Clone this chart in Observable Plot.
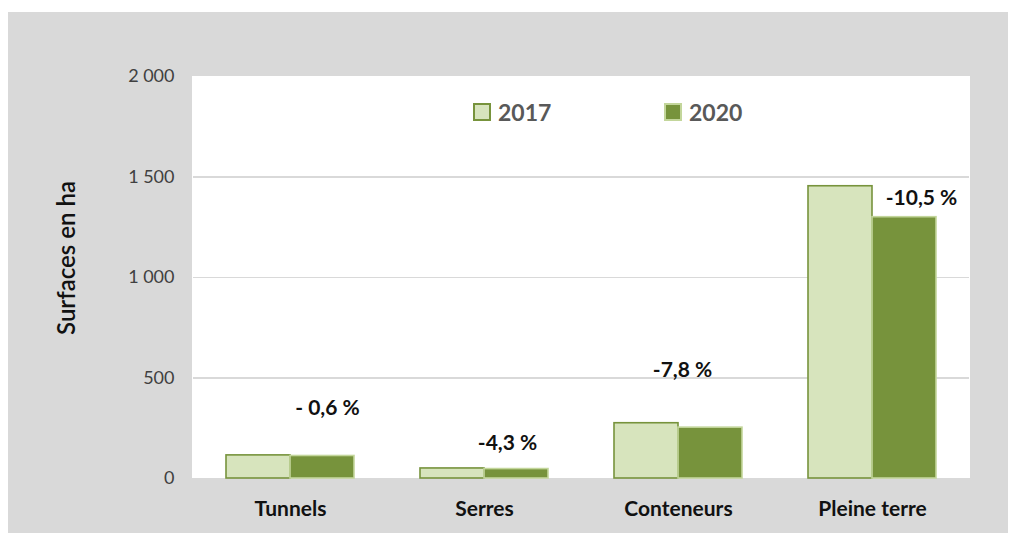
<!DOCTYPE html>
<html>
<head>
<meta charset="utf-8">
<script src="https://cdn.jsdelivr.net/npm/d3@7"></script>
<script src="https://cdn.jsdelivr.net/npm/@observablehq/plot@0.6"></script>
<style>
  html, body { margin: 0; padding: 0; background: #ffffff; }
  #wrap { position: relative; width: 1009px; height: 533px; overflow: hidden; font-family: Lato, "Open Sans", sans-serif; }
  #bg { position: absolute; left: 8px; top: 12px; width: 1000px; height: 521px; background: #d9d9d9; }
  #plotbg { position: absolute; left: 192px; top: 76px; width: 778px; height: 402px; background: #ffffff; }
  #chart { position: absolute; left: 0; top: 0; }
  #ylabel { position: absolute; left: 65px; top: 258px; transform: translate(-50%, -50%) rotate(-90deg); font-size: 24px; font-weight: 600; color: #111; white-space: nowrap; }
  .leg { position: absolute; top: 98px; display: flex; align-items: center; font-size: 23px; font-weight: 700; color: #595959; }
  .sw { width: 14px; height: 14px; margin-right: 7px; border: 2px solid; }
</style>
</head>
<body>
<div id="wrap">
  <div id="bg"></div>
  <div id="plotbg"></div>
  <div id="chart"></div>
  <div id="ylabel"></div>
  <div id="legend"></div>
</div>
<script>
const categories = ["Tunnels", "Serres", "Conteneurs", "Pleine terre"];
const years = ["2017", "2020"];
const values2017 = [115, 50, 275, 1454];
const values2020 = [112, 47, 253, 1300];
const changeLabels = ["- 0,6 %", "-4,3 %", "-7,8 %", "-10,5 %"];
const labelAnchors = [348, 174, 537, 1393];
const yTicks = [0, 500, 1000, 1500, 2000];
const yTitle = "Surfaces en ha";

const fills = {"2017": "#d7e4bd", "2020": "#77933c"};
const strokes = {"2017": "#77933c", "2020": "#c3d69b"};
const labelDx = [5, -9, -28, 17];

const rows = [];
categories.forEach((c, i) => {
  rows.push({category: c, year: "2017", value: values2017[i]});
  rows.push({category: c, year: "2020", value: values2020[i]});
});
const labels = categories.map((c, i) => ({category: c, year: "2020", value: labelAnchors[i], text: changeLabels[i], dx: labelDx[i]}));

const fmt = d => d3.format(",")(d).replace(/,/g, " ");

const chart = Plot.plot({
  width: 1009,
  height: 533,
  marginLeft: 192,
  marginRight: 39,
  marginTop: 76,
  marginBottom: 55,
  style: {background: "transparent", fontFamily: "Lato, 'Open Sans', sans-serif"},
  fx: {domain: categories, padding: 0, label: null},
  x: {domain: years, paddingInner: 0, paddingOuter: 0.5, axis: null},
  y: {domain: [0, 2000], label: null},
  marks: [
    Plot.ruleY([500, 1000, 1500], {stroke: "#d9d9d9", strokeWidth: 1.5, shapeRendering: "crispEdges"}),
    Plot.barY(rows, {fx: "category", x: "year", y: "value", fill: d => fills[d.year], stroke: d => strokes[d.year], strokeWidth: 1.6, insetLeft: 0, insetRight: 0}),
    ...labels.map(l => Plot.text([l], {fx: "category", x: "year", y: "value", text: "text", dx: l.dx, fontSize: 21, fontWeight: 700, fill: "#111"})),
    Plot.axisY({ticks: yTicks, tickFormat: fmt, tickSize: 0, tickPadding: 19, fontSize: 18, fill: "#404040", label: null}),
    Plot.axisFx({anchor: "bottom", tickSize: 0, tickPadding: 23, fontSize: 21, fontWeight: 700, fill: "#111", label: null})
  ]
});
document.getElementById("chart").appendChild(chart);
document.getElementById("ylabel").textContent = yTitle;

const legend = document.getElementById("legend");
const legendLeft = {"2017": 473, "2020": 664};
years.forEach(y => {
  const item = document.createElement("div");
  item.className = "leg";
  item.style.left = legendLeft[y] + "px";
  const sw = document.createElement("span");
  sw.className = "sw";
  sw.style.background = fills[y];
  sw.style.borderColor = strokes[y];
  item.appendChild(sw);
  const t = document.createElement("span");
  t.textContent = y;
  item.appendChild(t);
  legend.appendChild(item);
});
</script>
</body>
</html>
